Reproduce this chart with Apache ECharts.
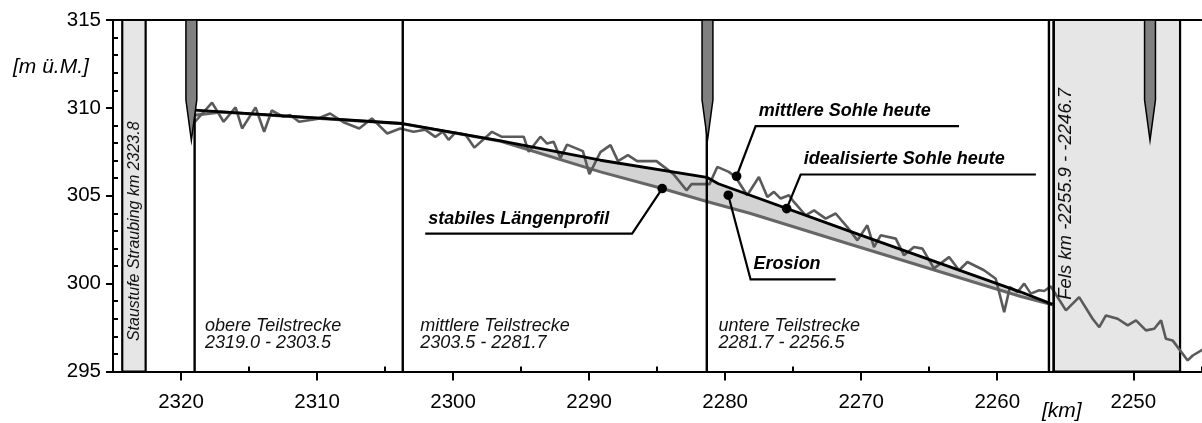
<!DOCTYPE html>
<html><head><meta charset="utf-8">
<script src="https://cdn.jsdelivr.net/npm/echarts@6/dist/echarts.min.js"></script>
<style>html,body{margin:0;padding:0;background:#fff}#c{width:1202px;height:423px}</style>
</head><body><div id="c"></div>
<script>
const FONT = '"Liberation Sans", Arial, sans-serif';

// ---- axes ----
const yMin = 295, yMax = 315, yStep = 5;
const xMin = 2245, xMax = 2325;
const xTickLabels = [2320, 2310, 2300, 2290, 2280, 2270, 2260, 2250];
const xMinorTicks = [2325, 2315, 2305, 2295, 2285, 2275, 2265, 2255, 2245];

// ---- measured mean bed today (km, m ü.M.) ----
const measured = [
 [2318.97,309.21],[2317.72,310.30],[2316.87,309.21],[2315.99,310.03],[2315.51,308.83],[2314.52,310.03],
 [2313.89,308.64],[2313.33,309.85],[2312.47,309.49],[2311.98,309.59],[2311.32,309.21],[2310.01,309.37],
 [2309.04,309.68],[2308.06,309.18],[2306.90,308.83],[2305.97,309.40],[2304.84,308.54],[2303.89,308.83],
 [2302.91,308.64],[2302.05,308.76],[2301.31,308.35],[2300.76,308.64],[2300.33,308.18],[2299.84,308.59],
 [2299.10,308.48],[2298.44,307.74],[2297.14,308.64],[2296.45,308.36],[2294.81,308.36],[2294.44,307.50],
 [2293.58,308.36],[2293.09,307.97],[2292.61,308.07],[2292.11,307.14],[2291.62,307.91],[2290.46,307.54],
 [2289.98,306.23],[2289.17,307.48],[2288.43,307.88],[2287.88,306.97],[2287.15,307.31],[2286.47,306.97],
 [2285.05,306.97],[2283.80,306.23],[2282.84,305.31],[2282.47,305.66],[2281.15,305.66],[2280.58,306.64],
 [2279.73,306.36],[2279.24,306.07],[2278.38,305.03],[2277.52,306.07],[2276.90,304.93],[2276.42,305.22],
 [2275.92,304.84],[2275.31,305.03],[2274.95,304.65],[2274.09,303.89],[2273.47,304.17],[2272.61,303.70],
 [2271.88,303.99],[2271.02,303.22],[2270.28,302.46],[2269.55,303.32],[2269.06,302.08],[2268.57,302.75],
 [2267.46,302.56],[2266.85,301.61],[2266.12,302.08],[2265.50,301.99],[2264.65,300.87],[2263.54,301.51],
 [2262.81,300.76],[2262.19,301.23],[2260.97,300.76],[2260.11,300.28],[2259.49,298.38],[2259.07,299.80],
 [2258.51,299.52],[2258.02,300.00],[2257.53,299.43],[2256.92,299.62],[2256.55,299.58],[2256.06,299.84],
 [2254.95,298.48],[2253.98,299.23],[2252.99,298.00],[2252.50,297.52],[2252.01,298.19],[2251.15,298.00],
 [2250.41,297.62],[2249.80,297.91],[2249.07,297.34],[2248.46,297.43],[2247.96,297.91],[2247.60,296.86],
 [2247.11,296.77],[2246.00,295.63],[2245.63,295.91],[2244.90,296.25]
];

// ---- idealised bed today ----
const idealized = [
 [2319.0,309.87],[2311.24,309.49],[2303.7,309.11],[2296.5,308.12],[2289.17,307.02],
 [2281.35,306.05],[2280.5,305.68],[2271.02,303.03],[2258.26,299.52],[2255.93,298.82]
];

// ---- stable longitudinal profile ----
const stable = [
 [2319.0,309.58],[2317.0,309.76],[2311.24,309.47],[2303.7,309.09],[2296.5,308.10],[2289.17,306.36],
 [2284.63,305.41],[2281.35,304.67],[2278.13,303.99],[2271.0,302.28],[2258.26,299.27],[2255.93,298.80]
];

// ---- bands, dividers, pointers ----
const bands = [[2324.32, 2322.6], [2255.85, 2246.56]];
const bandLabels = ['Staustufe Straubing km 2323.8', 'Fels km -2255.9 - -2246.7'];
const bandLabelAnchor = [[2323.38, 302.98], [2254.95, 305.11]];
const dividerKm = [2319.0, 2303.7, 2281.35, 2256.2, 2255.85];
const dividerTop = [309.87, 315, 315, 315, 315];
const pointerKm = [2319.24, 2281.3, 2248.77];

// ---- section labels ----
const sectionLabels = ['obere Teilstrecke\n2319.0 - 2303.5', 'mittlere Teilstrecke\n2303.5 - 2281.7', 'untere Teilstrecke\n2281.7 - 2256.5'];
const sectionAnchor = [[2318.24, 297.08], [2302.41, 297.08], [2280.49, 297.08]];

// ---- callouts ----
const annotLabels = ['stabiles Längenprofil', 'mittlere Sohle heute', 'idealisierte Sohle heute', 'Erosion'];
const annotDot = [[2284.63,305.41],[2279.16,306.11],[2275.48,304.27],[2279.77,305.03]];
const annotElbow = [[2286.84,302.85],[2277.76,308.96],[2274.45,306.21],[2278.13,300.24]];
const annotEnd = [2302.05, 2262.81, 2257.16, 2271.88];

const chart = echarts.init(document.getElementById('c'), null, {renderer: 'canvas'});

const axisLineStyle = {color: '#000', width: 2};

const option = {
  animation: false,
  backgroundColor: '#fff',
  grid: {left: 113, right: 0.7, top: 20, bottom: 51.5, containLabel: false},
  xAxis: [
    {type: 'value', min: xMin, max: xMax, inverse: true, position: 'bottom',
     axisLine: {show: true, lineStyle: axisLineStyle},
     axisTick: {show: true, customValues: xTickLabels, length: 9, inside: false, lineStyle: {color: '#000', width: 2}},
     axisLabel: {show: true, customValues: xTickLabels, margin: 20, fontSize: 20.5, fontFamily: FONT, color: '#000',
                 formatter: function (v) { return String(v); }},
     splitLine: {show: false}},
    {type: 'value', min: xMin, max: xMax, inverse: true, position: 'bottom',
     axisLine: {show: false},
     axisTick: {show: true, customValues: xMinorTicks, length: 5, inside: true, lineStyle: {color: '#000', width: 2}},
     axisLabel: {show: false}, splitLine: {show: false}},
    {type: 'value', min: xMin, max: xMax, inverse: true, position: 'top',
     axisLine: {show: true, lineStyle: axisLineStyle},
     axisTick: {show: false}, axisLabel: {show: false}, splitLine: {show: false}}
  ],
  yAxis: [
    {type: 'value', min: yMin, max: yMax, interval: yStep, position: 'left',
     axisLine: {show: true, lineStyle: axisLineStyle},
     axisTick: {show: true, length: 7, inside: false, lineStyle: {color: '#000', width: 2}},
     axisLabel: {margin: 12, fontSize: 20.5, fontFamily: FONT, color: '#000'},
     splitLine: {show: false}},
    {type: 'value', min: yMin, max: yMax, interval: yStep, position: 'left',
     axisLine: {show: false},
     axisTick: {show: false, inside: true},
     minorTick: {show: true, splitNumber: 5, length: 5, lineStyle: {color: '#000', width: 2}},
     axisLabel: {show: false}, splitLine: {show: false}, minorSplitLine: {show: false}}
  ],
  graphic: [
    {type: 'text', left: 13, top: 57, style: {text: '[m ü.M.]', fontSize: 21, fontStyle: 'italic', fontFamily: FONT, fill: '#000'}},
    {type: 'text', left: 1042, top: 401, style: {text: '[km]', fontSize: 21, fontStyle: 'italic', fontFamily: FONT, fill: '#000'}}
  ],
  series: [
    // bands
    {type: 'custom', z: 1, xAxisIndex: 0, yAxisIndex: 0, data: bands,
     encode: {x: [0, 1]},
     renderItem: function (params, api) {
       const a = api.coord([api.value(0), yMax]);
       const b = api.coord([api.value(1), yMin]);
       return {type: 'rect', shape: {x: Math.min(a[0], b[0]), y: a[1], width: Math.abs(b[0] - a[0]), height: b[1] - a[1]},
               style: {fill: '#e6e6e6', stroke: '#000', lineWidth: 2.2}};
     }},
    // erosion area
    {type: 'custom', z: 2, xAxisIndex: 0, yAxisIndex: 0, data: [[2300, 305]],
     renderItem: function (params, api) {
       const pts = idealized.map(p => api.coord(p)).concat(stable.slice().reverse().map(p => api.coord(p)));
       return {type: 'polygon', shape: {points: pts}, style: {fill: '#d3d3d3', stroke: null}};
     }},
    // stable profile
    {type: 'line', z: 3, data: stable, showSymbol: false, symbol: 'none',
     lineStyle: {color: '#666', width: 3}},
    // measured
    {type: 'line', z: 4, data: measured, showSymbol: false, symbol: 'none',
     lineStyle: {color: '#5a5a5a', width: 2.6}},
    // idealised
    {type: 'line', z: 5, data: idealized, showSymbol: false, symbol: 'none',
     lineStyle: {color: '#000', width: 2.8}},
    // dividers
    {type: 'custom', z: 6, data: dividerKm.map((k, i) => [k, dividerTop[i]]),
     renderItem: function (params, api) {
       const a = api.coord([api.value(0), api.value(1)]);
       const b = api.coord([api.value(0), yMin]);
       return {type: 'line', shape: {x1: a[0], y1: a[1], x2: b[0], y2: b[1]}, style: {stroke: '#000', lineWidth: 2.4}};
     }},
    // pointers
    {type: 'custom', z: 7, data: pointerKm.map(k => [k, yMax]),
     renderItem: function (params, api) {
       const k = api.value(0), hw = 0.4;
       const pts = [[k - hw, yMax], [k + hw, yMax], [k + hw, 310.45], [k, 308.15], [k - hw, 310.45]].map(p => api.coord(p));
       return {type: 'polygon', shape: {points: pts}, style: {fill: '#808080', stroke: '#000', lineWidth: 1.5}};
     }},
    // band labels (rotated)
    {type: 'custom', z: 8, data: bandLabelAnchor,
     renderItem: function (params, api) {
       const i = params.dataIndex;
       const p = api.coord([api.value(0), api.value(1)]);
       return {type: 'text', x: p[0], y: p[1], rotation: Math.PI / 2,
               style: {text: bandLabels[i], fontSize: i === 0 ? 16 : 18.5, fontStyle: 'italic', fontFamily: FONT, fill: '#111',
                       align: 'center', verticalAlign: 'middle'}};
     }},
    // section labels
    {type: 'custom', z: 8, data: sectionAnchor,
     renderItem: function (params, api) {
       const i = params.dataIndex;
       const p = api.coord([api.value(0), api.value(1)]);
       return {type: 'text', x: p[0], y: p[1],
               style: {text: sectionLabels[i], fontSize: 18, lineHeight: 17, fontStyle: 'italic', fontFamily: FONT, fill: '#111',
                       align: 'left', verticalAlign: 'middle'}};
     }},
    // callouts
    {type: 'custom', z: 9, data: annotDot,
     renderItem: function (params, api) {
       const i = params.dataIndex;
       const dot = api.coord(annotDot[i]);
       const elb = api.coord(annotElbow[i]);
       const end = api.coord([annotEnd[i], annotElbow[i][1]]);
       const left = Math.min(elb[0], end[0]);
       return {type: 'group', children: [
         {type: 'polyline', shape: {points: [end, elb, dot]}, style: {stroke: '#000', lineWidth: 2.2, fill: null}},
         {type: 'circle', shape: {cx: dot[0], cy: dot[1], r: 4.8}, style: {fill: '#000'}},
         {type: 'text', x: left + 3, y: elb[1] - 6,
          style: {text: annotLabels[i], fontSize: 18, fontWeight: 'bold', fontStyle: 'italic', fontFamily: FONT, fill: '#000',
                  align: 'left', verticalAlign: 'bottom'}}
       ]};
     }}
  ]
};
chart.setOption(option);
</script>
</body></html>
